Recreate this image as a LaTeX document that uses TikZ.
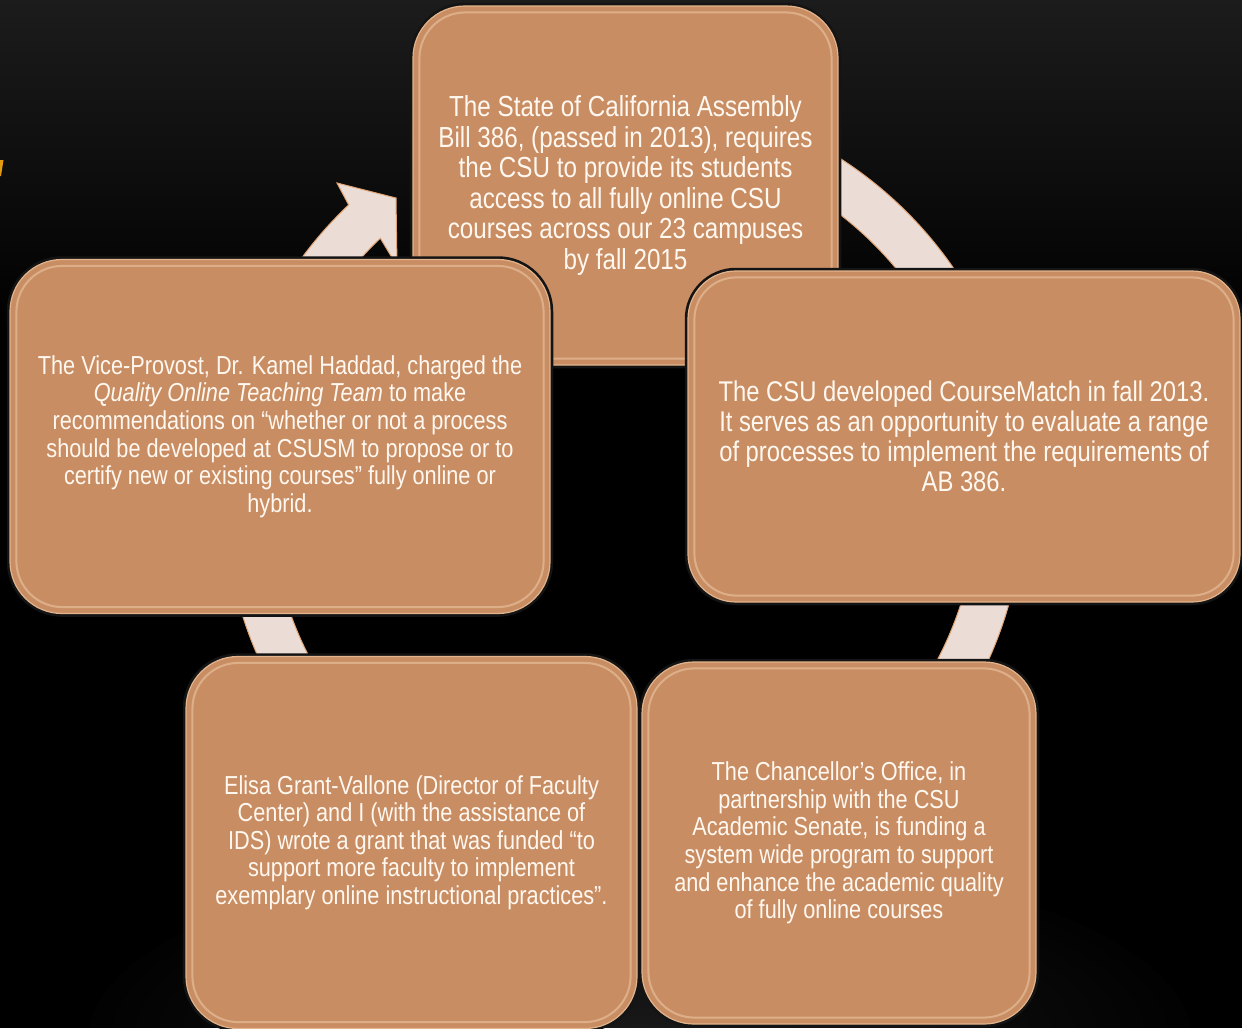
\documentclass[tikz,border=0pt]{standalone}
\usepackage{fontspec}
\setmainfont{Liberation Sans}[FakeStretch=0.835]
\definecolor{boxfill}{HTML}{C98D63}
\definecolor{boxedge}{HTML}{E2B48C}
\definecolor{hilite}{HTML}{F6D9B8}
\definecolor{ringfill}{HTML}{EBDCD5}
\definecolor{ringedge}{HTML}{E0A474}
\definecolor{txt}{HTML}{FFF8F0}
\definecolor{markc}{HTML}{E39B12}
\definecolor{bgtop}{HTML}{1C1C1C}
\begin{document}
\begin{tikzpicture}[x=1pt,y=-1pt,
  card/.style={preaction={draw=black!92, line width=6.5pt},
    draw=boxedge, line width=1.2pt, fill=boxfill, rounded corners=52pt,
    inner sep=0pt, text=txt, align=center},
  bevel/.style={draw=hilite, line width=2pt, opacity=0.45, rounded corners=46pt},
  bigtext/.style={font=\fontsize{29pt}{30.5pt}\selectfont},
  midtext/.style={font=\fontsize{28.5pt}{30pt}\selectfont},
  smalltext/.style={font=\fontsize{26pt}{27.6pt}\selectfont},
  glowstep/.style={fill=white, opacity=0.009},
  ring/.style={fill=ringfill, draw=ringedge, line width=1pt}]
\useasboundingbox (0,0) rectangle (1242,1028);
\clip (0,0) rectangle (1242,1028);
% background
\fill[black] (0,0) rectangle (1242,1028);
\shade[top color=bgtop, bottom color=black] (0,0) rectangle (1242,330);
\foreach \r in {1,...,24}{
  \fill[glowstep] (640,1040) ellipse [x radius={23*\r}, y radius={8*\r}];
}
% partial title glyph at the left edge
\fill[markc] (0,160) -- (3.5,160) -- (1,176) -- (0,176) -- cycle;
% cycle ring with arrow head
\coordinate (rc) at (624,495);
\path[ring] ([shift={(440:354pt)}]rc)
  arc[start angle=440, end angle=133.5, radius=354pt]
  -- (397,266) -- (396,198) -- (337,183)
  -- ([shift={(133.5:400pt)}]rc)
  arc[start angle=133.5, end angle=440, radius=400pt] -- cycle;
% boxes
\node[card, bigtext, minimum width=425pt, minimum height=359pt] (top) at (625.5,185.5)
  {The State of California Assembly\\Bill 386, (passed in 2013), requires\\the CSU to provide its students\\access to all fully online CSU\\courses across our 23 campuses\\by fall 2015};
\draw[bevel] ([shift={(7,7)}]top.north west) rectangle ([shift={(-7,-7)}]top.south east);
\node[card, smalltext, minimum width=540pt, minimum height=354pt] (lft) at (280,436.5)
  {The Vice-Provost, Dr. Kamel Haddad, charged the\\\textit{Quality Online Teaching Team} to make\\recommendations on “whether or not a process\\should be developed at CSUSM to propose or to\\certify new or existing courses” fully online or\\hybrid.};
\draw[bevel] ([shift={(7,7)}]lft.north west) rectangle ([shift={(-7,-7)}]lft.south east);
\node[card, midtext, minimum width=552pt, minimum height=331pt, rounded corners=48pt] (rgt) at (964,436.5)
  {The CSU developed CourseMatch in fall 2013.\\It serves as an opportunity to evaluate a range\\of processes to implement the requirements of\\AB 386.};
\draw[bevel, rounded corners=42pt] ([shift={(7,7)}]rgt.north west) rectangle ([shift={(-7,-7)}]rgt.south east);
\node[card, smalltext, minimum width=451pt, minimum height=372pt] (bl) at (411.5,842.5)
  {Elisa Grant-Vallone (Director of Faculty\\Center) and I (with the assistance of\\IDS) wrote a grant that was funded “to\\support more faculty to implement\\exemplary online instructional practices”.};
\draw[bevel] ([shift={(7,7)}]bl.north west) rectangle ([shift={(-7,-7)}]bl.south east);
\node[card, smalltext, minimum width=394pt, minimum height=362pt] (br) at (839,843)
  {The Chancellor’s Office, in\\partnership with the CSU\\Academic Senate, is funding a\\system wide program to support\\and enhance the academic quality\\of fully online courses};
\draw[bevel] ([shift={(7,7)}]br.north west) rectangle ([shift={(-7,-7)}]br.south east);
\end{tikzpicture}
\end{document}
